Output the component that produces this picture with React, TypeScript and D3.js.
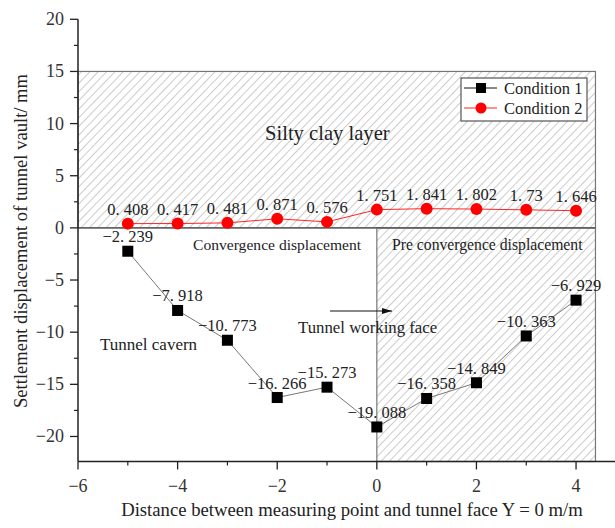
import React from 'react';
import * as d3 from 'd3';

const distances = [-5, -4, -3, -2, -1, 0, 1, 2, 3, 4];
const condition1 = [-2.239, -7.918, -10.773, -16.266, -15.273, -19.088, -16.358, -14.849, -10.363, -6.929];
const condition2 = [0.408, 0.417, 0.481, 0.871, 0.576, 1.751, 1.841, 1.802, 1.73, 1.646];
const seriesNames = ['Condition 1', 'Condition 2'];
const xTicks = [-6, -4, -2, 0, 2, 4];
const xMinorTicks = [-5, -3, -1, 1, 3];
const yTicks = [-20, -15, -10, -5, 0, 5, 10, 15, 20];
const yMinorTicks = [-17.5, -12.5, -7.5, -2.5, 2.5, 7.5, 12.5, 17.5];

const W = 615;
const H = 528;
const font = '"Liberation Serif", "Times New Roman", serif';

const fmt = (v: number) => String(v).replace('-', '\u2212').replace('.', '. ');

export default function App() {
  const x = d3.scaleLinear().domain([-6, 4.75]).range([78, 613.4]);
  const y = d3.scaleLinear().domain([-22.4, 20]).range([461.5, 19.3]);

  const line = d3
    .line<number>()
    .x((_, i) => x(distances[i]))
    .y((d) => y(d));

  const x0 = x(-6);
  const xr = x(4.39);
  const yTop = y(15);
  const yZero = y(0);
  const yBot = y(-22.4);

  return (
    <svg width={W} height={H} style={{ position: 'absolute', left: 0, top: 0, background: '#fff' }} fontFamily={font}>
      <defs>
        <pattern id="hatch" patternUnits="userSpaceOnUse" width={6} height={6} patternTransform="rotate(44)">
          <line x1={0} y1={0} x2={0} y2={6} stroke="#9a9a9a" strokeWidth={1} />
        </pattern>
        <marker id="arrow" markerWidth={10} markerHeight={8} refX={10} refY={4} orient="auto" markerUnits="userSpaceOnUse">
          <path d="M0,1 L10,4 L0,7 Z" fill="#111" />
        </marker>
      </defs>

      {/* hatched zones */}
      <rect x={x0} y={yTop} width={xr - x0} height={yZero - yTop} fill="url(#hatch)" stroke="#777" strokeWidth={1.2} />
      <rect x={x(0)} y={yZero} width={xr - x(0)} height={yBot - yZero} fill="url(#hatch)" stroke="#777" strokeWidth={1.2} />
      <line x1={x0} x2={xr} y1={yZero} y2={yZero} stroke="#555" strokeWidth={1.3} />

      {/* axes */}
      <line x1={x0} x2={W} y1={yBot} y2={yBot} stroke="#222" strokeWidth={1.5} />
      <line x1={x0} x2={x0} y1={yBot} y2={y(20)} stroke="#222" strokeWidth={1.5} />
      {xTicks.map((t) => (
        <g key={'xt' + t}>
          <line x1={x(t)} x2={x(t)} y1={yBot} y2={yBot + 8} stroke="#222" strokeWidth={1.3} />
          <text x={x(t)} y={yBot + 30} textAnchor="middle" fontSize={18} fill="#333">
            {t < 0 ? '\u2212' + Math.abs(t) : t}
          </text>
        </g>
      ))}
      {xMinorTicks.map((t) => (
        <line key={'xm' + t} x1={x(t)} x2={x(t)} y1={yBot} y2={yBot + 4} stroke="#222" strokeWidth={1.2} />
      ))}
      {yTicks.map((t) => (
        <g key={'yt' + t}>
          <line x1={x0 - 8} x2={x0} y1={y(t)} y2={y(t)} stroke="#222" strokeWidth={1.3} />
          <text x={x0 - 14} y={y(t) + 6} textAnchor="end" fontSize={18} fill="#333">
            {t < 0 ? '\u2212' + Math.abs(t) : t}
          </text>
        </g>
      ))}
      {yMinorTicks.map((t) => (
        <line key={'ym' + t} x1={x0 - 4} x2={x0} y1={y(t)} y2={y(t)} stroke="#222" strokeWidth={1.2} />
      ))}

      <text x={352} y={516} textAnchor="middle" fontSize={18.7} fill="#222">
        Distance between measuring point and tunnel face Y = 0 m/m
      </text>
      <text transform="translate(27,241) rotate(-90)" textAnchor="middle" fontSize={18.6} fill="#222">
        Settlement displacement of tunnel vault/ mm
      </text>

      {/* annotations */}
      <text x={265} y={140} fontSize={20.6} fill="#222">Silty clay layer</text>
      <text x={193} y={250} fontSize={15.6} fill="#222">Convergence displacement</text>
      <text x={392} y={250} fontSize={15.7} fill="#222">Pre convergence displacement</text>
      <text x={100} y={350} fontSize={17} fill="#222">Tunnel cavern</text>
      <text x={298} y={333} fontSize={16.8} fill="#222">Tunnel working face</text>
      <line x1={330} x2={392} y1={311} y2={311} stroke="#111" strokeWidth={1} markerEnd="url(#arrow)" />

      {/* series */}
      <path d={line(condition1) || ''} fill="none" stroke="#777" strokeWidth={1} />
      <path d={line(condition2) || ''} fill="none" stroke="#f22" strokeWidth={1} />
      {condition1.map((v, i) => (
        <g key={'c1' + i}>
          <rect x={x(distances[i]) - 5.5} y={y(v) - 5.5} width={11} height={11} fill="#000" />
          <text x={x(distances[i])} y={y(v) - 9} textAnchor="middle" fontSize={16.5} fill="#222">
            {fmt(v)}
          </text>
        </g>
      ))}
      {condition2.map((v, i) => (
        <g key={'c2' + i}>
          <circle cx={x(distances[i])} cy={y(v)} r={6} fill="#f00" />
          <text x={x(distances[i])} y={y(v) - 9} textAnchor="middle" fontSize={16.5} fill="#222">
            {fmt(v)}
          </text>
        </g>
      ))}

      {/* legend */}
      <rect x={461} y={78} width={126} height={43} fill="#fff" stroke="#555" strokeWidth={1.2} />
      {seriesNames.map((name, i) => (
        <g key={name} transform={`translate(0,${88 + i * 20})`}>
          <line x1={464} x2={497} y1={0} y2={0} stroke={i === 0 ? '#111' : '#f22'} strokeWidth={1} />
          {i === 0 ? (
            <rect x={476} y={-5} width={10} height={10} fill="#000" />
          ) : (
            <circle cx={481} cy={0} r={5.5} fill="#f00" />
          )}
          <text x={504} y={6} fontSize={16.5} fill="#222">
            {name}
          </text>
        </g>
      ))}
    </svg>
  );
}
